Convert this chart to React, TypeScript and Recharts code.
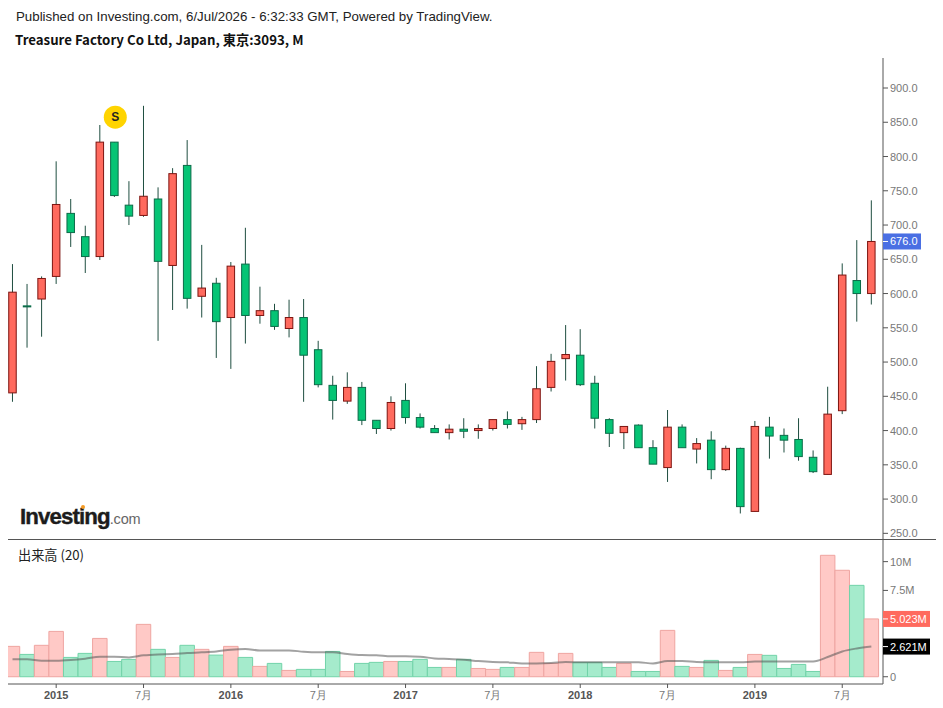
import React from 'react';
import { Bar, Cell, ComposedChart, Line, ReferenceDot, XAxis, YAxis } from 'recharts';

// monthly candles, Oct 2014 .. Sep 2019
const opens = [455, 582, 592, 625, 717, 683, 654, 821, 729, 714, 738, 641, 787, 596, 615, 565, 643, 568, 575, 549, 565, 518, 466, 443, 463, 415, 403, 444, 419, 403, 397, 402, 400, 403, 416, 410, 416, 463, 505, 510, 469, 416, 397, 408, 375, 346, 405, 373, 386, 343, 374, 282, 405, 393, 387, 361, 336, 429, 619, 600];
const closes = [602, 582, 622, 730, 689, 654, 821, 743, 713, 742, 647, 775, 593, 608, 559, 640, 568, 575, 552, 565, 510, 467, 444, 463, 415, 403, 441, 419, 405, 397, 402, 399, 403, 416, 409, 416, 461, 501, 511, 467, 418, 396, 406, 375, 351, 405, 375, 381, 343, 374, 289, 406, 392, 386, 362, 340, 424, 627, 600, 676];
const highs = [643, 614, 625, 793, 738, 699, 846, 821, 764, 874, 755, 783, 824, 671, 623, 646, 696, 610, 585, 591, 592, 531, 480, 485, 471, 415, 450, 469, 425, 408, 409, 418, 409, 416, 428, 420, 494, 512, 554, 548, 480, 418, 406, 409, 386, 430, 409, 389, 399, 378, 375, 414, 420, 403, 418, 371, 464, 644, 678, 736];
const lows = [442, 521, 537, 614, 668, 630, 649, 741, 700, 712, 531, 576, 578, 565, 506, 490, 527, 556, 547, 536, 442, 463, 416, 439, 408, 395, 400, 410, 403, 397, 387, 389, 388, 400, 403, 401, 411, 457, 473, 465, 403, 376, 373, 375, 351, 325, 375, 352, 329, 341, 279, 282, 359, 368, 356, 338, 336, 424, 559, 584];

// volume in millions and its 20 period average
const volumes = [2.64, 1.94, 2.73, 3.94, 1.68, 2.03, 3.33, 1.33, 1.51, 4.55, 2.38, 1.68, 2.73, 2.38, 1.88, 2.64, 1.68, 0.9, 1.16, 0.55, 0.64, 0.64, 2.2, 0.46, 1.16, 1.25, 1.33, 1.33, 1.51, 0.81, 0.81, 1.51, 0.72, 0.64, 0.81, 0.81, 2.12, 1.16, 2.03, 1.25, 1.25, 0.81, 1.16, 0.46, 0.46, 4.03, 0.9, 0.81, 1.42, 0.55, 0.81, 1.94, 1.86, 0.72, 1.07, 0.46, 10.55, 9.25, 7.94, 5.023];
const volumeSma = [1.51, 1.51, 1.39, 1.39, 1.45, 1.57, 1.74, 1.74, 1.68, 1.86, 1.94, 1.97, 2.06, 2.12, 2.2, 2.35, 2.41, 2.29, 2.29, 2.29, 2.17, 2.12, 2.12, 1.97, 1.88, 1.86, 1.77, 1.77, 1.74, 1.59, 1.54, 1.48, 1.36, 1.28, 1.25, 1.16, 1.16, 1.19, 1.28, 1.25, 1.25, 1.25, 1.25, 1.25, 1.16, 1.36, 1.36, 1.28, 1.25, 1.25, 1.25, 1.33, 1.33, 1.33, 1.33, 1.33, 1.71, 2.2, 2.46, 2.621];

const xTicks = [3, 9, 15, 21, 27, 33, 39, 45, 51, 57];
const xTickLabels = ['2015', '7月', '2016', '7月', '2017', '7月', '2018', '7月', '2019', '7月'];
const priceTicks = [250, 300, 350, 400, 450, 500, 550, 600, 650, 676, 700, 750, 800, 850, 900];
const volumeTicks = [0, 2.621, 5.023, 7.5, 10];

const lastPrice = 676;
const lastVolume = 5.023;
const lastSma = 2.621;

const candles = opens.map((open, i) => ({ i, open, close: closes[i], high: highs[i], low: lows[i] }));
const volumeRows = volumes.map((volume, i) => ({ i, volume, sma: volumeSma[i], rising: closes[i] > opens[i] }));

const xDomain = [-0.31, 59.8];
const axisColor = '#555';
const tickColor = '#787878';
const sans = '"Liberation Sans", Arial, sans-serif';

const Candle = (props: any) => {
  const { x, y, width, height, payload } = props;
  const { open, close, high, low } = payload;
  const unit = height / (high - low);
  const left = x - 0.5;
  const cx = left + width / 2;
  const rising = close > open;
  const top = y + (high - Math.max(open, close)) * unit;
  const bodyHeight = Math.max(Math.abs(close - open) * unit, 1);
  return (
    <g>
      <line x1={cx} x2={cx} y1={y} y2={y + height} stroke="#1f4e40" strokeWidth={1} />
      <rect
        x={left}
        y={top}
        width={width}
        height={bodyHeight}
        fill={rising ? '#ff6a5e' : '#06c475'}
        stroke={rising ? '#7d1410' : '#0b6b48'}
        strokeWidth={1}
      />
    </g>
  );
};

// value tick with an optional coloured flag behind it
const SideTick = (props: any) => {
  const { x, y, payload, format, flags } = props;
  const flag = flags[payload.value];
  return (
    <g>
      {flag && <rect x={x} y={y - 8} width={flag.width} height={16} fill={flag.fill} />}
      <line x1={x} x2={x + 5} y1={y} y2={y} stroke={flag ? '#fff' : axisColor} />
      <text x={x + 7} y={y + 4} fontSize={11} fontFamily={sans} fill={flag ? '#fff' : tickColor}>
        {format(payload.value)}
      </text>
    </g>
  );
};

const DateTick = (props: any) => {
  const { x, y, payload } = props;
  const label = xTickLabels[xTicks.indexOf(payload.value)];
  const isYear = label.length === 4;
  return (
    <g>
      <line x1={x} x2={x} y1={y} y2={y + 4} stroke={axisColor} />
      <text
        x={x}
        y={y + 15}
        textAnchor="middle"
        fontSize={11}
        fontWeight={isYear ? 700 : 400}
        fontFamily={sans}
        fill={isYear ? '#555' : tickColor}
      >
        {label}
      </text>
    </g>
  );
};

const priceFlags = { [lastPrice]: { fill: '#4a6fe3', width: 38 } };
const volumeFlags = {
  [lastVolume]: { fill: '#ff6a5e', width: 47 },
  [lastSma]: { fill: '#000', width: 47 },
};

const App = () => (
  <div style={{ position: 'absolute', left: 0, top: 0, width: 943, height: 708, background: '#fff', overflow: 'hidden' }}>
    <div style={{ position: 'absolute', left: 16, top: 9, fontFamily: sans, fontSize: 13.3, color: '#222', whiteSpace: 'nowrap' }}>
      Published on Investing.com, 6/Jul/2026 - 6:32:33 GMT, Powered by TradingView.
    </div>
    <div style={{ position: 'absolute', left: 15, top: 30, fontFamily: '"Noto Sans CJK JP", sans-serif', fontWeight: 700, fontSize: 13.25, color: '#111', whiteSpace: 'nowrap' }}>
      Treasure Factory Co Ltd, Japan, 東京:3093, M
    </div>

    <div style={{ position: 'absolute', left: 0, top: 58 }}>
      <ComposedChart width={943} height={481.5} data={candles} margin={{ top: 0, right: 0, bottom: 0, left: 8 }}>
        <XAxis dataKey="i" type="number" domain={xDomain} allowDataOverflow hide />
        <YAxis
          orientation="right"
          width={60}
          domain={[241, 943.8]}
          ticks={priceTicks}
          interval={0}
          axisLine={{ stroke: axisColor }}
          tickLine={false}
          tickSize={0}
          tickMargin={0}
          tick={<SideTick format={(v: number) => v.toFixed(1)} flags={priceFlags} />}
        />
        <Bar dataKey={(d: any) => [d.low, d.high]} barSize={7.5} shape={<Candle />} isAnimationActive={false} />
        <ReferenceDot
          x={7.06}
          y={857.5}
          r={11.5}
          fill="#ffd400"
          stroke="none"
          label={{ value: 'S', position: 'center', fontSize: 12, fontWeight: 700, fontFamily: sans, fill: '#222' }}
        />
      </ComposedChart>
    </div>

    <div style={{ position: 'absolute', left: 8, top: 539, width: 928, height: 1, background: axisColor }} />
    <div style={{ position: 'absolute', left: 18, top: 545, fontFamily: '"Noto Sans CJK JP", sans-serif', fontSize: 13.2, color: '#222', whiteSpace: 'nowrap' }}>
      出来高 (20)
    </div>

    <div style={{ position: 'absolute', left: 0, top: 540 }}>
      <ComposedChart width={943} height={168} data={volumeRows} margin={{ top: 0, right: 0, bottom: 0, left: 8 }}>
        <XAxis
          dataKey="i"
          type="number"
          domain={xDomain}
          allowDataOverflow
          ticks={xTicks}
          interval={0}
          height={24}
          axisLine={{ stroke: axisColor }}
          tickLine={false}
          tickSize={0}
          tickMargin={0}
          tick={<DateTick />}
        />
        <YAxis
          orientation="right"
          width={60}
          domain={[-0.63, 11.88]}
          ticks={volumeTicks}
          interval={0}
          axisLine={{ stroke: axisColor }}
          tickLine={false}
          tickSize={0}
          tickMargin={0}
          tick={<SideTick format={(v: number) => (v === 0 ? '0' : v === lastVolume || v === lastSma ? `${v.toFixed(3)}M` : `${v}M`)} flags={volumeFlags} />}
        />
        <Bar dataKey="volume" barSize={14.5} strokeWidth={1} isAnimationActive={false}>
          {volumeRows.map((row) => (
            <Cell key={row.i} fill={row.rising ? '#ffc9c6' : '#a5ebcc'} stroke={row.rising ? '#efa5a1' : '#72d3a9'} />
          ))}
        </Bar>
        <Line dataKey="sma" type="monotone" dot={false} stroke="#555" strokeOpacity={0.55} strokeWidth={2} isAnimationActive={false} />
      </ComposedChart>
    </div>

    <div style={{ position: 'absolute', left: 20, top: 504, fontFamily: sans, fontWeight: 700, fontSize: 22.3, letterSpacing: -0.9, color: '#1c1c1c', WebkitTextStroke: '0.4px #1c1c1c', whiteSpace: 'nowrap' }}>
      Investing<span style={{ fontWeight: 400, fontSize: 14.5, letterSpacing: -0.2, color: '#666', WebkitTextStroke: '0' }}>.com</span>
    </div>
    <div style={{ position: 'absolute', left: 81, top: 505, width: 4, height: 4, background: '#f59a23', borderRadius: 2 }} />
  </div>
);

export default App;
